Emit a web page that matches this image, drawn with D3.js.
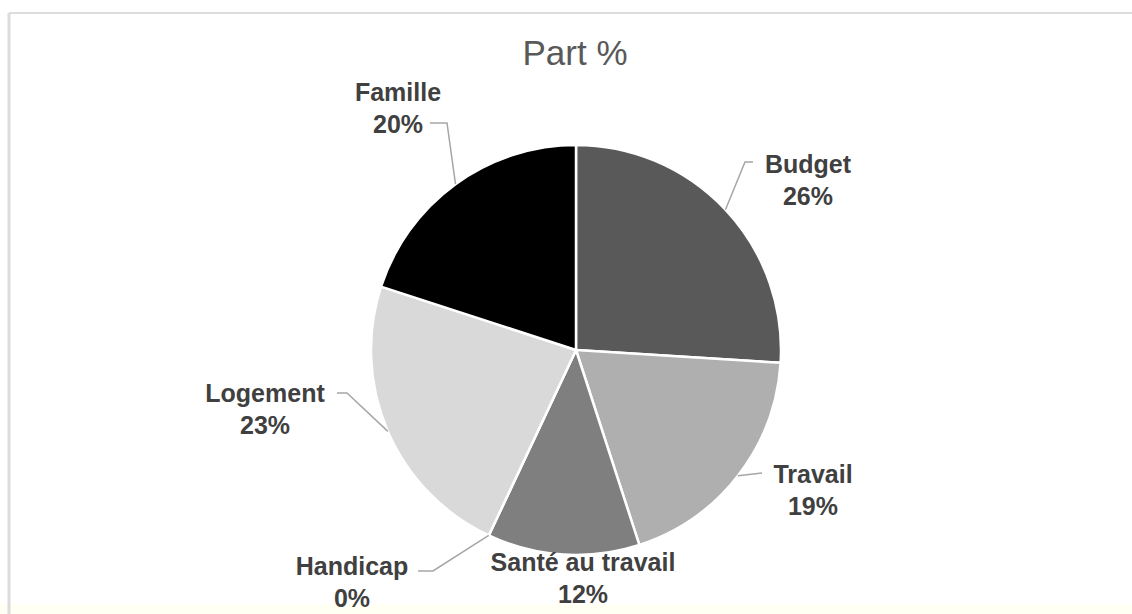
<!DOCTYPE html>
<html>
<head>
<meta charset="utf-8">
<script src="https://cdn.jsdelivr.net/npm/d3@7"></script>
<style>
  html, body { margin: 0; padding: 0; background: #fff; }
  svg { display: block; }
</style>
</head>
<body>
<div id="chart"></div>
<script>
// Part % — pie chart
const categories = ['Budget', 'Travail', 'Santé au travail', 'Handicap', 'Logement', 'Famille'];
const values = [26, 19, 12, 0, 23, 20];
const pctLabels = ['26%', '19%', '12%', '0%', '23%', '20%'];
const colors = ['#595959', '#afafaf', '#7f7f7f', '#a0a0a0', '#d9d9d9', '#000000'];

(function() {
  const W = 1132, H = 614;
  const cx = 576, cy = 350, R = 205;

  // label block centre (relative to pie centre) + leader elbow (relative to label centre)
  const layout = [
    { lx: 232,  ly: -170, elbow: [-63, -18], end: [-55, -18] },
    { lx: 237,  ly: 140,  elbow: null,       end: [-51, -17] },
    { lx: 7,    ly: 228,  elbow: null,       end: null },
    { lx: -224, ly: 232,  elbow: [81, -11],  end: [66, -11] },
    { lx: -311, ly: 59,   elbow: [82, -16],  end: [72, -16] },
    { lx: -178, ly: -242, elbow: [49, 15],   end: [32, 15] }
  ];

  const data = categories.map((c, i) => ({ name: c, value: values[i], pct: pctLabels[i], color: colors[i], lay: layout[i] }));

  const svg = d3.select('#chart').append('svg').attr('width', W).attr('height', H);

  // frame
  svg.append('rect').attr('x', 0).attr('y', 604).attr('width', W).attr('height', 10).attr('fill', '#fffff4');
  svg.append('line').attr('x1', 9).attr('x2', W).attr('y1', 13).attr('y2', 13).attr('stroke', '#dcdcdc').attr('stroke-width', 2);
  svg.append('line').attr('x1', 9).attr('x2', 9).attr('y1', 13).attr('y2', H).attr('stroke', '#dcdcdc').attr('stroke-width', 3);

  // title
  svg.append('text').attr('x', 575).attr('y', 65).attr('text-anchor', 'middle')
    .style('font-family', '"Liberation Sans", Arial, sans-serif').style('font-size', '35px').style('fill', '#595959')
    .text('Part %');

  const pie = d3.pie().value(d => d.value).sort(null);
  const arc = d3.arc().innerRadius(0).outerRadius(R);
  const edge = d3.arc().innerRadius(R).outerRadius(R);
  const arcs = pie(data);

  const g = svg.append('g').attr('transform', `translate(${cx},${cy})`);

  g.selectAll('path.sl').data(arcs).join('path').attr('class', 'sl')
    .attr('d', arc)
    .attr('fill', d => d.data.color)
    .attr('stroke', '#fff').attr('stroke-width', 2.5).attr('stroke-linejoin', 'round');

  // leader lines
  arcs.forEach(d => {
    const L = d.data.lay;
    if (!L.end) return;
    const p0 = edge.centroid(d);
    const pts = [p0];
    if (L.elbow) pts.push([L.lx + L.elbow[0], L.ly + L.elbow[1]]);
    pts.push([L.lx + L.end[0], L.ly + L.end[1]]);
    g.append('path').attr('d', d3.line()(pts))
      .attr('fill', 'none').attr('stroke', '#a6a6a6').attr('stroke-width', 1.5);
  });

  // labels
  const lab = g.selectAll('text.lab').data(arcs).join('text').attr('class', 'lab')
    .attr('text-anchor', 'middle')
    .style('font-family', '"Liberation Sans", Arial, sans-serif').style('font-weight', 'bold')
    .style('font-size', '25px').style('fill', '#404040');
  lab.append('tspan').attr('x', d => d.data.lay.lx).attr('y', d => d.data.lay.ly - 7).text(d => d.data.name);
  lab.append('tspan').attr('x', d => d.data.lay.lx).attr('y', d => d.data.lay.ly + 25).text(d => d.data.pct);
})();
</script>
</body>
</html>
